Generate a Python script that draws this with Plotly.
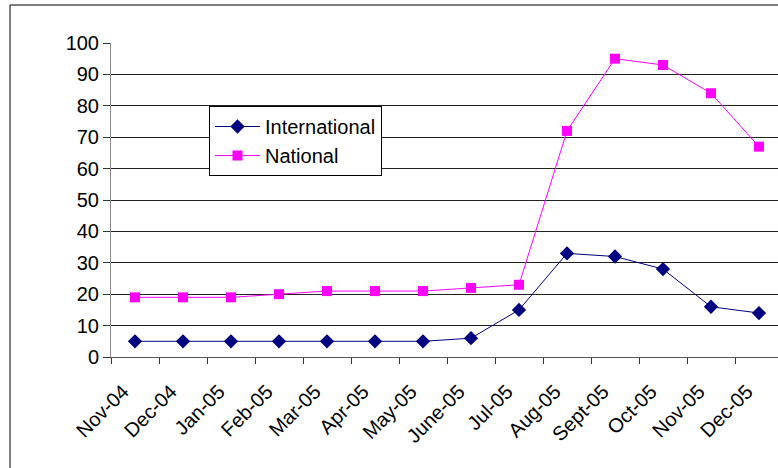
import plotly.graph_objects as go

months = ["Nov-04", "Dec-04", "Jan-05", "Feb-05", "Mar-05", "Apr-05", "May-05",
          "June-05", "Jul-05", "Aug-05", "Sept-05", "Oct-05", "Nov-05", "Dec-05"]
international = [5, 5, 5, 5, 5, 5, 5, 6, 15, 33, 32, 28, 16, 14]
national = [19, 19, 19, 20, 21, 21, 21, 22, 23, 72, 95, 93, 84, 67]
y_ticks = [0, 10, 20, 30, 40, 50, 60, 70, 80, 90, 100]

FONT = "Liberation Sans, Arial, sans-serif"
FS = 20

fig = go.Figure()
fig.add_trace(go.Scatter(
    x=months, y=international, name="International", mode="lines+markers",
    line=dict(color="#000080", width=1),
    marker=dict(symbol="diamond", size=11, color="#000080"),
    cliponaxis=False,
))
fig.add_trace(go.Scatter(
    x=months, y=national, name="National", mode="lines+markers",
    line=dict(color="#FF00FF", width=1),
    marker=dict(symbol="square", size=10, color="#FF00FF"),
    cliponaxis=False,
))

L, T, B = 111, 43, 111
W, H = 778, 468
plot_w = W - L
plot_h = H - T - B
cat_w = 48.0
right_edge = -0.5 + plot_w / cat_w

fig.update_layout(
    width=W, height=H,
    margin=dict(l=L, r=0, t=T, b=B, pad=0),
    paper_bgcolor="white", plot_bgcolor="white",
    font=dict(family=FONT, size=FS, color="black"),
    showlegend=True,
    legend=dict(
        x=(209 - L) / plot_w, y=(H - B - 106) / plot_h,
        xanchor="left", yanchor="top",
        bgcolor="white", bordercolor="black", borderwidth=1,
        font=dict(family=FONT, size=FS, color="black"),
        tracegroupgap=0, itemwidth=45,
    ),
    xaxis=dict(
        type="category", range=[-0.5, right_edge],
        tickmode="array", tickvals=months, ticktext=months,
        tickson="boundaries", ticks="outside", ticklen=6, tickcolor="#333",
        tickangle=-45, showgrid=False, zeroline=False,
        showline=True, linecolor="#555", linewidth=1,
        ticklabelshift=-12, ticklabelstandoff=14,
        tickfont=dict(family=FONT, size=FS, color="black"),
    ),
    yaxis=dict(
        range=[0, 100], tickmode="array", tickvals=y_ticks,
        ticks="outside", ticklen=7, tickcolor="#333",
        showgrid=True, gridcolor="#222", gridwidth=1,
        zeroline=False, showline=True, linecolor="#888", linewidth=1,
        tickfont=dict(family=FONT, size=FS, color="black"),
    ),
    shapes=[dict(
        type="rect", xref="paper", yref="paper",
        x0=(10 - L) / plot_w, x1=(W + 20 - L) / plot_w,
        y0=(H - B - (H + 20)) / plot_h, y1=(H - B - 5) / plot_h,
        line=dict(color="black", width=1), fillcolor="rgba(0,0,0,0)",
        layer="below",
    )],
)

fig.write_html(
    "out.html",
    config={"displayModeBar": False},
    post_script="document.body.style.margin='0';document.body.style.overflow='hidden';",
)
